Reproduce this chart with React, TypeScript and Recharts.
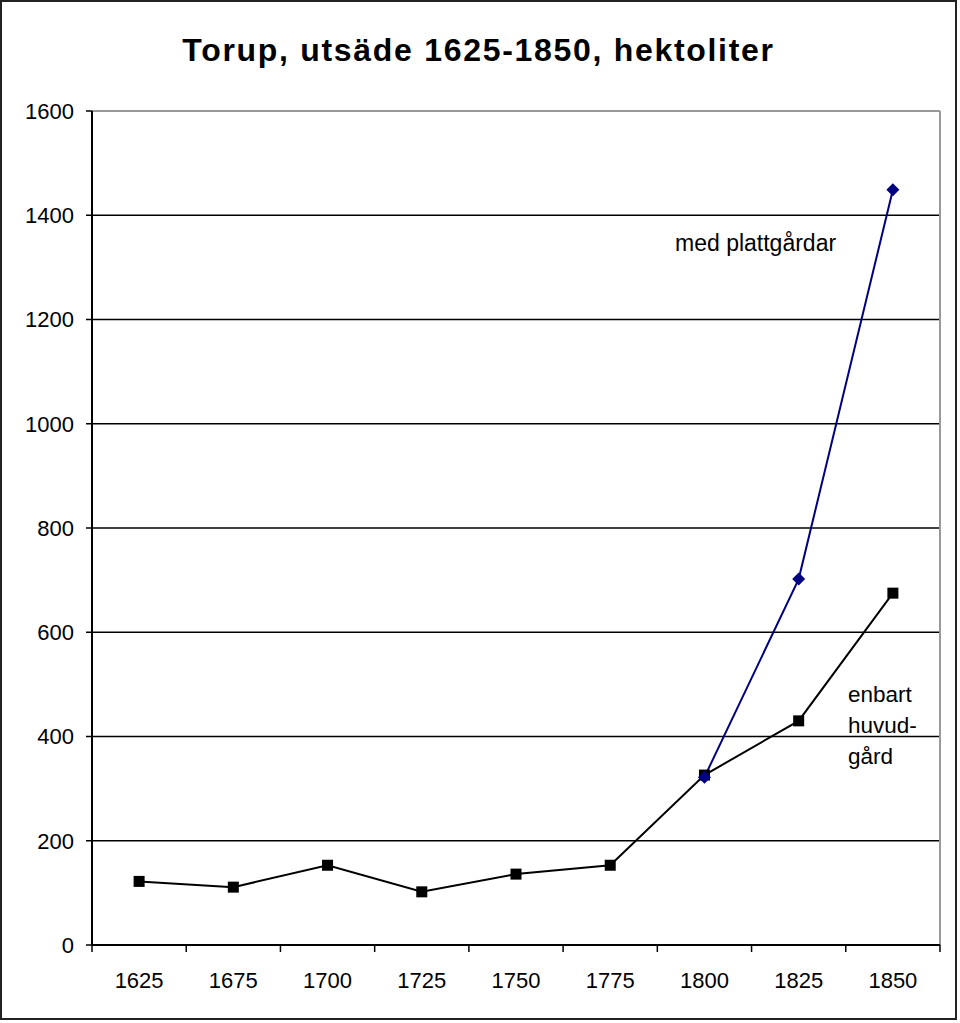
import React from 'react';
import { LineChart, Line, XAxis, YAxis, CartesianGrid, ReferenceLine } from 'recharts';

const years = ['1625', '1675', '1700', '1725', '1750', '1775', '1800', '1825', '1850'];
const enbartHuvudgard = [122, 111, 153, 102, 136, 153, 326, 430, 675];
const medPlattgardar: (number | null)[] = [null, null, null, null, null, null, 322, 702, 1449];
const yTicks = [0, 200, 400, 600, 800, 1000, 1200, 1400, 1600];

const FONT = '"Liberation Sans", Arial, sans-serif';

const data = years.map((y, i) => ({
  pos: i + 0.5,
  year: y,
  huvud: enbartHuvudgard[i],
  platt: medPlattgardar[i],
}));

// ticks at category boundaries (integers) and category centers (halves)
const xTicks: number[] = [];
for (let i = 0; i <= years.length * 2; i++) xTicks.push(i / 2);

const XTick = (props: any) => {
  const { x, y, payload } = props;
  const v = payload.value as number;
  if (Number.isInteger(v)) {
    return <line x1={x} x2={x} y1={y} y2={y + 7} stroke="#000" strokeWidth={1.5} />;
  }
  const label = years[Math.floor(v)];
  return (
    <text x={x} y={y + 43} textAnchor="middle" fontSize={22} fontFamily={FONT} fill="#000">
      {label}
    </text>
  );
};

const Square = (props: any) => {
  const { cx, cy, value } = props;
  if (value == null || cx == null) return <g />;
  return <rect x={cx - 5.5} y={cy - 5.5} width={11} height={11} fill="#000" />;
};

const Diamond = (props: any) => {
  const { cx, cy, value } = props;
  if (value == null || cx == null) return <g />;
  const r = 6.5;
  return <polygon points={`${cx},${cy - r} ${cx + r},${cy} ${cx},${cy + r} ${cx - r},${cy}`} fill="#000080" />;
};

export default function App() {
  return (
    <div style={{ position: 'absolute', left: 0, top: 0, width: 957, height: 1020, background: '#fff', fontFamily: FONT }}>
      <style>{'body{margin:0}'}</style>
      <div
        style={{
          position: 'absolute', left: 0, top: 0, width: 957, height: 1020,
          border: '2px solid #222', boxSizing: 'border-box', pointerEvents: 'none', zIndex: 2,
        }}
      />
      <div
        style={{
          position: 'absolute', left: 0, top: 28, width: 957, textAlign: 'center',
          fontSize: 32, fontWeight: 'bold', lineHeight: '44px', letterSpacing: '1.7px', color: '#000',
        }}
      >
        Torup, utsäde 1625-1850, hektoliter
      </div>
      <LineChart
        width={957}
        height={1020}
        data={data}
        margin={{ top: 111, right: 17, bottom: 25, left: 0 }}
        style={{ position: 'absolute', left: 0, top: 0 }}
      >
        <CartesianGrid vertical={false} stroke="#000" strokeWidth={1.5} />
        <XAxis
          dataKey="pos"
          type="number"
          domain={[0, years.length]}
          ticks={xTicks}
          interval={0}
          tickLine={false}
          tickSize={0}
          tickMargin={0}
          tick={<XTick />}
          height={50}
          axisLine={{ stroke: '#000', strokeWidth: 2 }}
        />
        <YAxis
          domain={[0, 1600]}
          ticks={yTicks}
          interval={0}
          width={92}
          tickSize={6}
          tickMargin={12}
          tick={{ fontSize: 22, fontFamily: FONT, fill: '#000' }}
          tickLine={{ stroke: '#000', strokeWidth: 1.5 }}
          axisLine={{ stroke: '#000', strokeWidth: 2 }}
        />
        <ReferenceLine y={1600} stroke="#999" strokeWidth={2} />
        <ReferenceLine x={years.length} stroke="#999" strokeWidth={2} />
        <Line
          dataKey="huvud"
          stroke="#000"
          strokeWidth={2}
          dot={<Square />}
          activeDot={false}
          isAnimationActive={false}
        />
        <Line
          dataKey="platt"
          stroke="#000080"
          strokeWidth={2}
          dot={<Diamond />}
          activeDot={false}
          isAnimationActive={false}
        />
      </LineChart>
      <div style={{ position: 'absolute', left: 675, top: 228, fontSize: 23, lineHeight: '31px', color: '#000', whiteSpace: 'nowrap' }}>
        med plattgårdar
      </div>
      <div style={{ position: 'absolute', left: 848, top: 679, fontSize: 22.5, lineHeight: '31px', color: '#000' }}>
        enbart<br />huvud-<br />gård
      </div>
    </div>
  );
}
